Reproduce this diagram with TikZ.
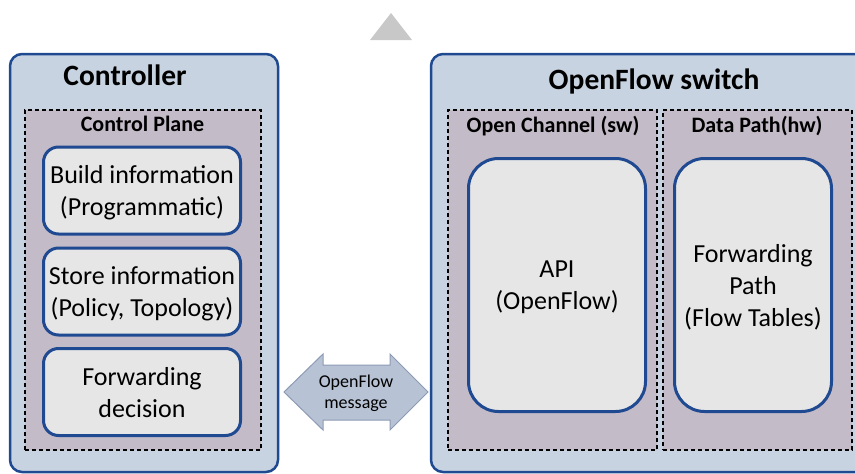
\documentclass[tikz,border=0pt]{standalone}
\usepackage{fontspec}
\setmainfont{Carlito}
\definecolor{outerfill}{RGB}{200,211,225}
\definecolor{edgeblue}{RGB}{31,73,145}
\definecolor{planefill}{RGB}{196,187,200}
\definecolor{cellfill}{RGB}{230,230,230}
\definecolor{arrowfill}{RGB}{183,194,212}
\definecolor{arrowedge}{RGB}{140,155,180}
\definecolor{markgrey}{RGB}{200,200,200}
\begin{document}
\begin{tikzpicture}[x=1pt,y=-1pt,
  outerbox/.style={draw=edgeblue, fill=outerfill, line width=2.5pt, rounded corners=12pt,
    rectangle, inner sep=0pt},
  planebox/.style={draw=black, fill=planefill, line width=1.3pt, dash pattern=on 4pt off 3pt,
    rectangle, inner sep=0pt},
  cell/.style={draw=edgeblue, fill=cellfill, line width=3pt, rectangle, inner sep=0pt,
    align=center, text depth=0pt, font=\fontsize{26}{32}\selectfont},
  bigtitle/.style={font=\fontsize{29.5}{34}\selectfont\bfseries, anchor=base, inner sep=0pt},
  planetitle/.style={font=\fontsize{22}{26}\selectfont\bfseries, anchor=base, inner sep=0pt}]
\useasboundingbox (0,0) rectangle (855,474);

% grey marker at the top
\fill[markgrey] (391,13) -- (412,40) -- (370,40) -- cycle;

% controller
\node[outerbox, minimum width=268pt, minimum height=418pt] (ctrl) at (144,263) {};
\node[bigtitle] (ctrltitle) at (125,85) {Controller};
\node[planebox, minimum width=236pt, minimum height=340pt] (cplane) at (143,280) {};
\node[planetitle] (cplanetitle) at (142.5,131) {Control Plane};
\node[cell, rounded corners=15pt, minimum width=197pt, minimum height=87pt] (build) at (142,190.5)
  {Build information\\(Programmatic)};
\node[cell, rounded corners=15pt, minimum width=197pt, minimum height=87pt] (store) at (142,291.5)
  {Store information\\(Policy, Topology)};
\node[cell, rounded corners=15pt, minimum width=197pt, minimum height=87pt] (fwd) at (142,392)
  {Forwarding\\decision};

% openflow switch
\node[outerbox, minimum width=449pt, minimum height=418pt] (sw) at (655.5,263) {};
\node[bigtitle] (swtitle) at (654,89) {OpenFlow switch};
\node[planebox, minimum width=209pt, minimum height=340pt] (chan) at (552.5,280) {};
\node[planetitle] (chantitle) at (553,132) {Open Channel (sw)};
\node[planebox, minimum width=189pt, minimum height=340pt] (dpath) at (757.5,280) {};
\node[planetitle] (dpathtitle) at (757,132) {Data Path(hw)};
\node[cell, rounded corners=30pt, minimum width=177pt, minimum height=253pt] (api) at (557,285)
  {API\\(OpenFlow)};
\node[cell, rounded corners=30pt, minimum width=157pt, minimum height=253pt] (fpath) at (753,285)
  {Forwarding\\Path\\(Flow Tables)};

% message arrow between controller and switch
\fill[arrowfill, draw=arrowedge, line width=1pt, line join=miter]
  (284,392) -- (323,354) -- (323,365) -- (390,365) -- (390,354) -- (428,392)
  -- (390,430) -- (390,420) -- (323,420) -- (323,430) -- cycle;
\node[align=center, font=\fontsize{18}{21}\selectfont, inner sep=0pt] (msg) at (356,393)
  {OpenFlow\\message};
\end{tikzpicture}
\end{document}
